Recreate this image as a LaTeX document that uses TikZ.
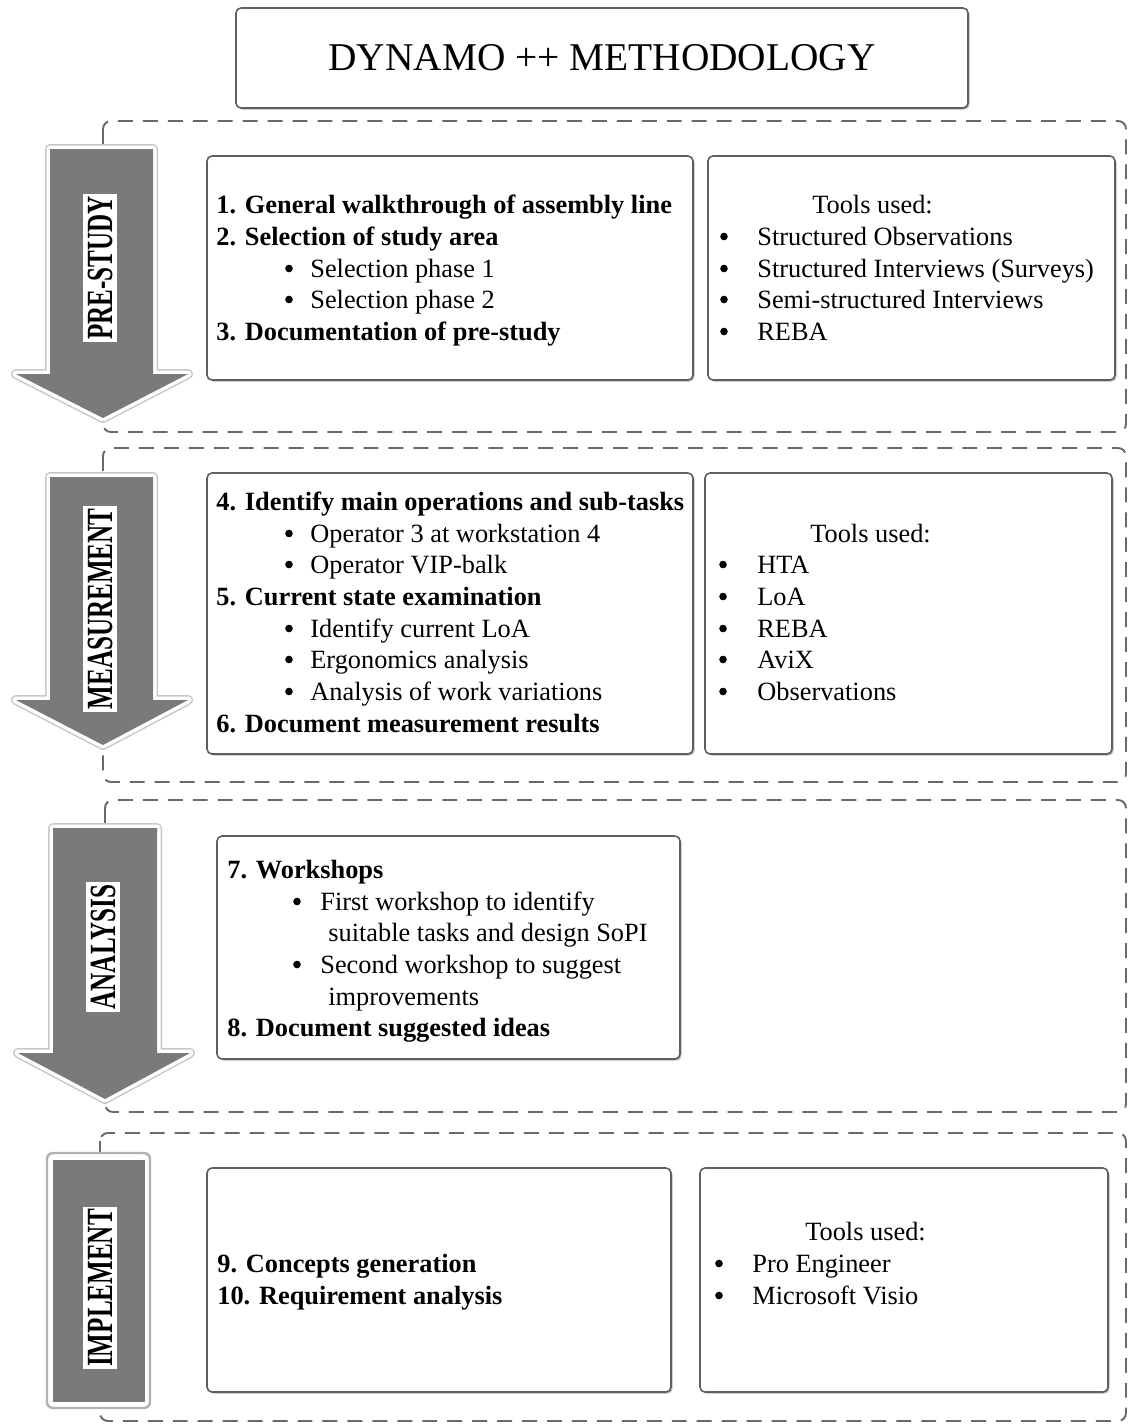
\documentclass[tikz,border=0pt]{standalone}
\usepackage{fontspec}
\setmainfont{Liberation Serif}
\usepackage{graphicx}
\usetikzlibrary{shadows}
\newlength\pxu
\setlength\pxu{0.02cm}
\definecolor{arrowgray}{RGB}{122,122,122}
\definecolor{framegray}{RGB}{105,105,105}
\definecolor{panelgray}{RGB}{95,95,95}
\newcommand\squeeze[1]{\scalebox{0.68}[1]{#1}}
% room left for a list bullet before the item text
\newcommand\bul[1]{\hspace*{#1\pxu}}
% block arrow pointing down: shaft left/right, top, head base, wing left/right, tip x/y
\newcommand\blockarrow[8]{%
  \draw[halo] (#1,#3) -- (#2,#3) -- (#2,#4) -- (#6,#4) -- (#7,#8) -- (#5,#4) -- (#1,#4) -- cycle;
  \draw[haloin] (#1,#3) -- (#2,#3) -- (#2,#4) -- (#6,#4) -- (#7,#8) -- (#5,#4) -- (#1,#4) -- cycle;
  \fill[arrowgray] (#1,#3) -- (#2,#3) -- (#2,#4) -- (#6,#4) -- (#7,#8) -- (#5,#4) -- (#1,#4) -- cycle;}
\begin{document}
\begin{tikzpicture}[x=0.02cm, y=-0.02cm,
  dashframe/.style={draw=framegray, line width=1.1pt, dash pattern=on 8.5pt off 5.7pt, rounded corners=8\pxu},
  panel/.style={draw=panelgray, line width=0.9pt, fill=white, rounded corners=5\pxu,
    drop shadow={shadow xshift=0.9pt, shadow yshift=-0.9pt, opacity=0.45, fill=black!60}},
  halo/.style={draw=black!22, line width=10\pxu, line join=round},
  haloin/.style={draw=white, line width=7\pxu, line join=round},
  txt/.style={inner sep=0pt, anchor=base west, font=\fontsize{15}{18}\selectfont},
  btxt/.style={inner sep=0pt, anchor=base west, font=\fontsize{15}{18}\selectfont\bfseries},
  vlabel/.style={rotate=90, fill=white, inner xsep=1.5pt, inner ysep=2.6pt,
    font=\fontsize{21}{21}\selectfont\bfseries},
  titletxt/.style={inner sep=0pt, font=\fontsize{22.4}{24}\selectfont}
]
\useasboundingbox (0,0) rectangle (1129,1427);
\fill[white] (0,0) rectangle (1129,1427);

% title
\draw[panel] (236,8) rectangle (968,108);
\node[titletxt] (title) at (602,58) {DYNAMO ++ METHODOLOGY};

% dashed phase frames
\draw[dashframe] (103,121) rectangle (1126,432);
\draw[dashframe] (103,448) rectangle (1126,782);
\draw[dashframe] (105,800) rectangle (1126,1112);
\draw[dashframe] (100,1133) rectangle (1126,1421);

% phase arrows
\blockarrow{50}{153}{149}{374}{16}{188}{103}{418}
\blockarrow{50}{153}{477}{700}{16}{188}{103}{745}
\blockarrow{53}{157}{828}{1053}{18}{190}{105}{1099}
% final phase block
\draw[draw=black!30, line width=1.4pt, fill=white, rounded corners=6\pxu] (47,1153) rectangle (150,1408);
\fill[arrowgray] (53,1160) rectangle (145,1402);

% phase labels
\node[vlabel] (lprestudy) at (100,268) {\squeeze{PRE-STUDY}};
\node[vlabel] (lmeasure) at (100,609) {\squeeze{MEASUREMENT}};
\node[vlabel] (lanalysis) at (103,947) {\squeeze{ANALYSIS}};
\node[vlabel] (limplement) at (100,1288) {\squeeze{IMPLEMENT}};

% pre-study
\draw[panel] (207,156) rectangle (693,380);
\draw[panel] (708,156) rectangle (1115,380);
\node[btxt] (s1a) at (216,213) {1. General walkthrough of assembly line};
\node[btxt] (s1b) at (216,245) {2. Selection of study area};
\node[txt] (s1c) at (284,277) {\bul{26}Selection phase 1};
\node[txt] (s1d) at (284,308) {\bul{26}Selection phase 2};
\node[btxt] (s1e) at (216,340) {3. Documentation of pre-study};
\node[txt] (t1h) at (812,213) {Tools used:};
\node[txt] (t1a) at (719,245) {\bul{38}Structured Observations};
\node[txt] (t1b) at (719,277) {\bul{38}Structured Interviews (Surveys)};
\node[txt] (t1c) at (719,308) {\bul{38}Semi-structured Interviews};
\node[txt] (t1d) at (719,340) {\bul{38}REBA};

% measurement
\draw[panel] (207,473) rectangle (693,754);
\draw[panel] (705,473) rectangle (1112,754);
\node[btxt] (s2a) at (216,510) {4. Identify main operations and sub-tasks};
\node[txt] (s2b) at (284,542) {\bul{26}Operator 3 at workstation 4};
\node[txt] (s2c) at (284,573) {\bul{26}Operator VIP-balk};
\node[btxt] (s2d) at (216,605) {5. Current state examination};
\node[txt] (s2e) at (284,637) {\bul{26}Identify current LoA};
\node[txt] (s2f) at (284,668) {\bul{26}Ergonomics analysis};
\node[txt] (s2g) at (284,700) {\bul{26}Analysis of work variations};
\node[btxt] (s2h) at (216,732) {6. Document measurement results};
\node[txt] (t2h) at (810,542) {Tools used:};
\node[txt] (t2a) at (718,573) {\bul{39}HTA};
\node[txt] (t2b) at (718,605) {\bul{39}LoA};
\node[txt] (t2c) at (718,637) {\bul{39}REBA};
\node[txt] (t2d) at (718,668) {\bul{39}AviX};
\node[txt] (t2e) at (718,700) {\bul{39}Observations};

% analysis
\draw[panel] (217,836) rectangle (680,1059);
\node[btxt] (s3a) at (227,878) {7. Workshops};
\node[txt] (s3b) at (292,910) {\bul{28}First workshop to identify};
\node[txt] (s3c) at (328,941) {suitable tasks and design SoPI};
\node[txt] (s3d) at (292,973) {\bul{28}Second workshop to suggest};
\node[txt] (s3e) at (328,1005) {improvements};
\node[btxt] (s3f) at (227,1036) {8. Document suggested ideas};

% implement
\draw[panel] (207,1168) rectangle (671,1392);
\draw[panel] (700,1168) rectangle (1108,1392);
\node[btxt] (s4a) at (217,1272) {9. Concepts generation};
\node[btxt] (s4b) at (217,1304) {10. Requirement analysis};
\node[txt] (t4h) at (805,1240) {Tools used:};
\node[txt] (t4a) at (714,1272) {\bul{38}Pro Engineer};
\node[txt] (t4b) at (714,1304) {\bul{38}Microsoft Visio};

% list bullets in front of the item lines
\foreach \n in {s1c,s1d,t1a,t1b,t1c,t1d,s2b,s2c,s2e,s2f,s2g,t2a,t2b,t2c,t2d,t2e,s3b,s3d,t4a,t4b}
  \fill ([shift={(5,-8.5)}]\n.base west) circle (3.8\pxu);
\end{tikzpicture}
\end{document}
